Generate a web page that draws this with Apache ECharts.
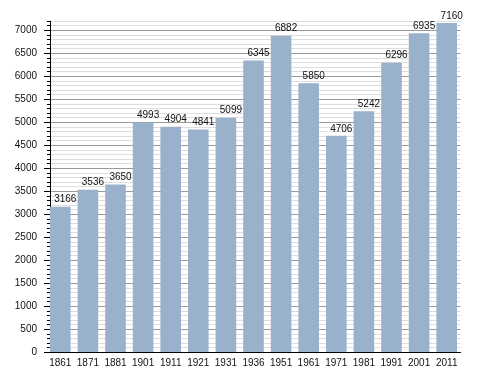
<!DOCTYPE html>
<html>
<head>
<meta charset="utf-8">
<script src="https://cdn.jsdelivr.net/npm/echarts@6/dist/echarts.min.js"></script>
<style>html,body{margin:0;padding:0;background:#fff}#c{width:488px;height:373px}</style>
</head>
<body>
<div id="c"></div>
<script>
const years = ['1861','1871','1881','1901','1911','1921','1931','1936','1951','1961','1971','1981','1991','2001','2011'];
const population = [3166,3536,3650,4993,4904,4841,5099,6345,6882,5850,4706,5242,6296,6935,7160];
const majorTicks = [0,500,1000,1500,2000,2500,3000,3500,4000,4500,5000,5500,6000,6500,7000];
const yMax = 7200;

const chart = echarts.init(document.getElementById('c'), null, {renderer: 'canvas'});
const font = 'Liberation Sans, Arial, sans-serif';
chart.setOption({
  animation: false,
  backgroundColor: '#fff',
  grid: {left: 46.5, right: 27.5, top: 21.1, bottom: 20.7, containLabel: false},
  xAxis: {
    type: 'category',
    data: years,
    boundaryGap: true,
    axisLine: {show: true, lineStyle: {color: '#000', width: 1}},
    axisTick: {show: false},
    axisLabel: {color: '#111', fontSize: 10, fontFamily: font, margin: 6, interval: 0},
    z: 10
  },
  yAxis: [{
    type: 'value',
    min: 0, max: yMax, interval: 100,
    offset: -3.5,
    axisLine: {show: true, lineStyle: {color: '#000', width: 1}},
    axisTick: {show: true, length: 3, lineStyle: {color: '#000'}},
    axisLabel: {
      color: '#111', fontSize: 10, fontFamily: font, margin: 13,
      formatter: v => (v % 500 === 0 ? String(v) : '')
    },
    splitLine: {show: true, lineStyle: {color: ['#9a9a9a','#dedede','#dedede','#dedede','#dedede'], width: 1}}
  }, {
    type: 'value',
    position: 'left',
    min: 0, max: yMax,
    offset: -3.5,
    axisLine: {show: false},
    axisTick: {show: true, length: 6, customValues: majorTicks, lineStyle: {color: '#000'}},
    axisLabel: {show: false},
    splitLine: {show: false}
  }],
  series: [{
    type: 'bar',
    data: population,
    barWidth: 20.6,
    itemStyle: {color: '#9ab1cc'},
    label: {
      show: true, position: 'top', distance: 2, offset: [5, 0],
      color: '#111', fontSize: 10, fontFamily: font
    }
  }]
});
</script>
</body>
</html>
